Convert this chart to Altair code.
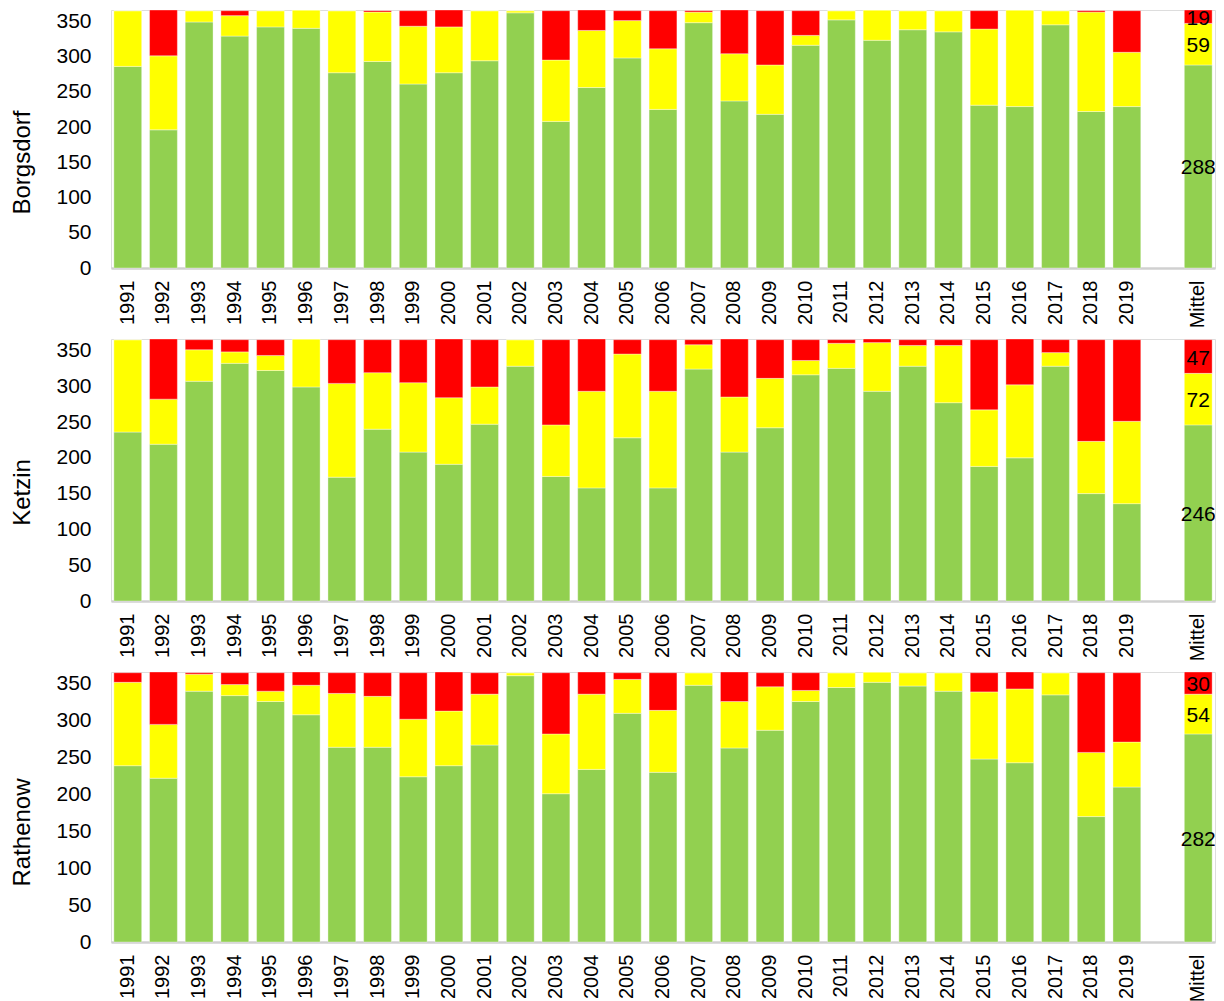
import altair as alt
import pandas as pd

years = ["1991", "1992", "1993", "1994", "1995", "1996", "1997", "1998", "1999", "2000",
         "2001", "2002", "2003", "2004", "2005", "2006", "2007", "2008", "2009", "2010",
         "2011", "2012", "2013", "2014", "2015", "2016", "2017", "2018", "2019"]
mittel_label = "Mittel"
gap_label = " "
categories = ["grün", "gelb", "rot"]
colors = ["#92D050", "#FFFF00", "#FF0000"]

borgsdorf_green = [286, 196, 349, 329, 342, 340, 277, 293, 261, 277, 294, 362, 208, 256, 298,
                   225, 348, 237, 218, 316, 352, 323, 338, 335, 231, 229, 345, 222, 229]
borgsdorf_yellow = [79, 105, 16, 29, 23, 26, 88, 70, 82, 65, 71, 3, 87, 81, 53,
                    86, 15, 67, 70, 14, 13, 43, 27, 30, 108, 137, 20, 141, 77]
borgsdorf_red = [0, 65, 0, 7, 0, 0, 0, 2, 22, 24, 0, 0, 70, 29, 14,
                 54, 2, 62, 77, 35, 0, 0, 0, 0, 26, 0, 0, 2, 59]
borgsdorf_mittel = [288, 59, 19]

ketzin_green = [236, 219, 307, 332, 322, 299, 173, 240, 208, 191, 247, 328, 174, 158, 228,
                158, 324, 208, 242, 316, 325, 293, 328, 277, 188, 200, 328, 150, 136]
ketzin_yellow = [129, 63, 44, 16, 21, 67, 131, 79, 97, 93, 52, 37, 72, 135, 117,
                 135, 34, 77, 69, 20, 35, 68, 29, 80, 79, 102, 19, 73, 115]
ketzin_red = [0, 84, 14, 17, 22, 0, 61, 46, 60, 82, 66, 0, 119, 73, 20,
              72, 7, 81, 54, 29, 5, 5, 8, 8, 98, 64, 18, 142, 114]
ketzin_mittel = [246, 72, 47]

rathenow_green = [239, 222, 340, 334, 326, 308, 264, 264, 224, 239, 267, 361, 201, 234, 310,
                  230, 348, 263, 287, 326, 345, 352, 347, 340, 248, 243, 335, 170, 210]
rathenow_yellow = [113, 73, 23, 15, 14, 40, 73, 69, 78, 74, 69, 4, 81, 102, 46,
                   84, 17, 63, 59, 15, 20, 14, 18, 25, 91, 100, 30, 87, 61]
rathenow_red = [13, 71, 2, 16, 25, 18, 28, 32, 63, 53, 29, 0, 83, 30, 9,
                51, 0, 40, 19, 24, 0, 0, 0, 0, 26, 23, 0, 108, 94]
rathenow_mittel = [282, 54, 30]

y_ticks = [0, 50, 100, 150, 200, 250, 300, 350]

NARROW = "Liberation Sans Narrow, Arial Narrow, Liberation Sans"
REG = "Liberation Sans, Arial"

x_domain = years + [gap_label, mittel_label]


def build_df(green, yellow, red, mittel):
    rows = []
    for series, cat, k in ((green, categories[0], 0), (yellow, categories[1], 1), (red, categories[2], 2)):
        for yr, v in zip(years, series):
            rows.append({"year": yr, "cat": cat, "ord": k, "value": v})
    for k, (cat, v) in enumerate(zip(categories, mittel)):
        rows.append({"year": mittel_label, "cat": cat, "ord": k, "value": v})
    return pd.DataFrame(rows)


def panel(name, green, yellow, red, mittel, height, title_y):
    df = build_df(green, yellow, red, mittel)
    x_scale = alt.Scale(domain=x_domain, paddingInner=0.22, paddingOuter=0.08)
    x_axis = alt.Axis(title=None, labelAngle=270, labelAlign="right", labelBaseline="middle",
                      labelFont=NARROW, labelFontSize=20, labelColor="black",
                      labelPadding=12, ticks=False, tickSize=0, labelOverlap=False,
                      domainColor="#d0d0d0", domainWidth=2.5)
    y_scale = alt.Scale(domain=[0, 366], nice=False, zero=True)
    y_axis = alt.Axis(title=name, values=y_ticks, grid=False, domain=False, ticks=False, tickSize=0,
                      labelOverlap=False, labelFlush=False,
                      labelFont=NARROW, labelFontSize=21, labelColor="black", labelPadding=20,
                      titleFont=REG, titleFontSize=24, titleFontWeight="normal", titleColor="black",
                      titleAngle=270, titleAlign="center", titleBaseline="alphabetic",
                      titleX=-82, titleY=title_y)
    base = alt.Chart(df)
    bars = base.mark_bar(stroke="white", strokeWidth=0.6, strokeOpacity=0.6).encode(
        x=alt.X("year:N", scale=x_scale, axis=x_axis),
        y=alt.Y("value:Q", stack="zero", scale=y_scale, axis=y_axis),
        color=alt.Color("cat:N", scale=alt.Scale(domain=categories, range=colors), legend=None),
        order=alt.Order("ord:Q", sort="ascending"),
    )
    texts = base.transform_filter(
        alt.datum.year == mittel_label
    ).transform_window(
        cum="sum(value)", sort=[alt.SortField("ord")], frame=[None, 0], groupby=["year"]
    ).transform_calculate(
        mid="datum.cum - datum.value / 2"
    ).mark_text(font=NARROW, fontSize=21, color="black", baseline="middle", align="center",
                dy=2, clip=True).encode(
        x=alt.X("year:N", scale=x_scale, axis=x_axis),
        y=alt.Y("mid:Q", scale=y_scale, axis=y_axis),
        text=alt.Text("value:Q"),
    )
    return alt.layer(bars, texts).properties(width=1104, height=height)


p1 = panel("Borgsdorf", borgsdorf_green, borgsdorf_yellow, borgsdorf_red, borgsdorf_mittel, 258, 152)
p2 = panel("Ketzin", ketzin_green, ketzin_yellow, ketzin_red, ketzin_mittel, 262, 153)
p3 = panel("Rathenow", rathenow_green, rathenow_yellow, rathenow_red, rathenow_mittel, 270, 160)

chart = alt.vconcat(p1, p2, p3, spacing=9).properties(
    padding={"left": 1, "top": 1, "right": 0, "bottom": 0}
).configure_view(stroke=None).configure(background="white")

chart.save("out.html", embed_options={"renderer": "svg", "actions": False})
